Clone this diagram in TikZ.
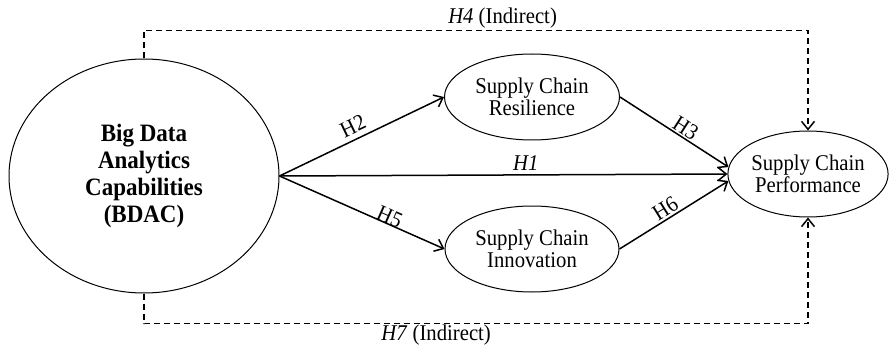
\documentclass[tikz,border=0pt]{standalone}
\usepackage{fontspec}
\setmainfont[FakeStretch=0.92]{Liberation Serif}
\usetikzlibrary{shapes.geometric}
\usetikzlibrary{arrows.meta}

\begin{document}
\begin{tikzpicture}[x=1pt, y=1pt,
 construct/.style={draw, ellipse, line width=1pt, inner sep=0, align=center, font=\fontsize{22.5}{21.5}\selectfont},
 effect/.style={line width=1.5pt, -{Straight Barb[length=8pt,width=13pt]}},
 indirect/.style={effect, dash pattern=on 6pt off 4pt},
 hyp/.style={font=\fontsize{22.5}{21.5}\selectfont, inner sep=1pt}
]
\useasboundingbox (0,0) rectangle (889,346);
% constructs
\node[construct, minimum width=270pt, minimum height=234pt, font=\fontsize{25}{26.7}\selectfont\bfseries] (bdac) at (144,170) {Big Data\\Analytics\\Capabilities\\(BDAC)};
\node[construct, minimum width=175pt, minimum height=86pt] (scr) at (532,249) {Supply Chain\\Resilience};
\node[construct, minimum width=174pt, minimum height=86pt] (sci) at (532,97) {Supply Chain\\Innovation};
\node[construct, minimum width=160pt, minimum height=86pt] (scp) at (808,172) {Supply Chain\\Performance};
% direct paths
\draw[effect] (bdac.east) -- (scp.west) node[hyp, pos=.55, above=3pt] {\textit{H1}};
\draw[effect] (bdac.east) -- (scr.west) node[hyp, sloped, pos=.48, above=4pt] {H2};
\draw[effect] (bdac.east) -- (sci.west) node[hyp, sloped, pos=.65, above=-2pt] {H5};
\draw[effect] (scr.east) -- (scp.175) node[hyp, sloped, pos=.56, above=0pt] {H3};
\draw[effect] (sci.east) -- (scp.185) node[hyp, sloped, pos=.47, above=1pt] {H6};
% indirect paths
\draw[indirect] (bdac.north) -- ++(0,28) -| node[hyp, pos=.27, above=0pt] {\textit{H4} (Indirect)} (scp.north);
\draw[indirect] (bdac.south) -- ++(0,-30) -| node[hyp, pos=.22, below=0pt] {\textit{H7} (Indirect)} (scp.south);
\end{tikzpicture}
\end{document}
